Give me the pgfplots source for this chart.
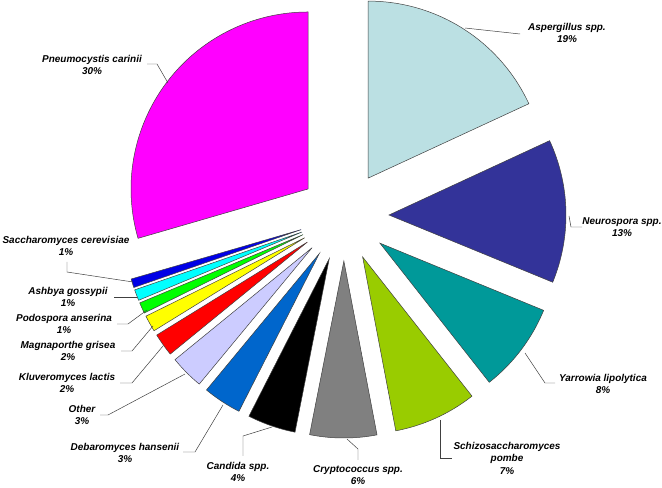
\documentclass[border=0pt]{standalone}
\usepackage{pgfplots}
\usepackage{pgfplotstable}
\pgfplotsset{compat=1.18}
\usepackage{fontspec}
\setmainfont{Liberation Sans}

\definecolor{c0}{RGB}{187,224,227}
\definecolor{c1}{RGB}{51,51,153}
\definecolor{c2}{RGB}{0,153,153}
\definecolor{c3}{RGB}{153,204,0}
\definecolor{c4}{RGB}{128,128,128}
\definecolor{c5}{RGB}{0,0,0}
\definecolor{c6}{RGB}{0,102,204}
\definecolor{c7}{RGB}{204,204,255}
\definecolor{c8}{RGB}{255,0,0}
\definecolor{c9}{RGB}{255,255,0}
\definecolor{c10}{RGB}{0,255,0}
\definecolor{c11}{RGB}{0,255,255}
\definecolor{c12}{RGB}{0,0,230}
\definecolor{c13}{RGB}{255,0,255}

% share of each organism (percent), clockwise from 12 o'clock
\pgfplotstableread{
name value
Aspergillus 18.1
Neurospora 13.1
Yarrowia 8.2
Schizosaccharomyces 7.6
Cryptococcus 6.1
Candida 4.4
Debaromyces 3.5
Other 3.1
Kluveromyces 2.1
Magnaporthe 1.5
Podospora 1.0
Ashbya 1.0
Saccharomyces 0.8
Pneumocystis 29.5
}\pietable

\begin{document}
\begin{tikzpicture}[lbl/.style={font=\fontsize{10}{12.5}\selectfont\bfseries\itshape, align=center, text=black, inner sep=0pt},
  ld/.style={draw=black!75, line width=0.5pt}]
\begin{axis}[x=1bp, y=1bp, xmin=0, xmax=662, ymin=0, ymax=488, hide axis, clip=false]
\gdef\cum{0}
\pgfplotsinvokeforeach{0,...,13}{%
  \pgfplotstablegetelem{#1}{value}\of\pietable
  \pgfmathsetmacro\tA{90-3.6*\cum}%
  \pgfmathsetmacro\tB{\tA-3.6*\pgfplotsretval}%
  \pgfmathsetmacro\tM{(\tA+\tB)/2}%
  \pgfmathsetmacro\ax{344+45*cos(\tM)}%
  \pgfmathsetmacro\ay{272+45*sin(\tM)}%
  \pgfmathsetmacro\newcum{\cum+\pgfplotsretval}%
  \xdef\cum{\newcum}%
  \edef\doslice{\noexpand\addplot[fill=c#1, draw=black!75, line width=0.5pt, domain=\tB:\tA, samples=90] ({\ax+177*cos(x)},{\ay+177*sin(x)}) -- (axis cs:\ax,\ay) -- cycle;}%
  \doslice
}
% labels
\node[lbl] at (axis cs:567,455) {Aspergillus spp.\\19\%};
\node[lbl] at (axis cs:622,261) {Neurospora spp.\\13\%};
\node[lbl] at (axis cs:603,104) {Yarrowia lipolytica\\8\%};
\node[lbl] at (axis cs:507,30) {Schizosaccharomyces\\pombe\\7\%};
\node[lbl] at (axis cs:358,13) {Cryptococcus spp.\\6\%};
\node[lbl] at (axis cs:238,16) {Candida spp.\\4\%};
\node[lbl] at (axis cs:125,35) {Debaromyces hansenii\\3\%};
\node[lbl] at (axis cs:82,73) {Other\\3\%};
\node[lbl] at (axis cs:67,105) {Kluveromyces lactis\\2\%};
\node[lbl] at (axis cs:68,137) {Magnaporthe grisea\\2\%};
\node[lbl] at (axis cs:64,164) {Podospora anserina\\1\%};
\node[lbl] at (axis cs:68,191) {Ashbya gossypii\\1\%};
\node[lbl] at (axis cs:66,242) {Saccharomyces cerevisiae\\1\%};
\node[lbl] at (axis cs:92,423) {Pneumocystis carinii\\30\%};
% leader lines
\draw[ld] (axis cs:465,460) -- (axis cs:520,454);
\draw[ld] (axis cs:569,272) -- (axis cs:571,261) -- (axis cs:582,261);
\draw[ld] (axis cs:525,135) -- (axis cs:545,105) -- (axis cs:555,105);
\draw[ld] (axis cs:440,68) -- (axis cs:440,30) -- (axis cs:452,30);
\draw[ld] (axis cs:347,49) -- (axis cs:358,39) -- (axis cs:358,28);
\draw[ld] (axis cs:272,61) -- (axis cs:243,52) -- (axis cs:243,32);
\draw[ld] (axis cs:223,83) -- (axis cs:195,36) -- (axis cs:183,36);
\draw[ld] (axis cs:185,114) -- (axis cs:108,73) -- (axis cs:100,73);
\draw[ld] (axis cs:163,142) -- (axis cs:132,105) -- (axis cs:120,105);
\draw[ld] (axis cs:153,162) -- (axis cs:132,137) -- (axis cs:121,137);
\draw[ld] (axis cs:147,178) -- (axis cs:128,164) -- (axis cs:117,164);
\draw[ld] (axis cs:137,191) -- (axis cs:114,191);
\draw[ld] (axis cs:133,206) -- (axis cs:67,216) -- (axis cs:67,226);
\draw[ld] (axis cs:168,405) -- (axis cs:157,424) -- (axis cs:147,424);
\end{axis}
\pgfresetboundingbox
\path (0,0) rectangle (662bp,488bp);
\end{tikzpicture}
\end{document}
